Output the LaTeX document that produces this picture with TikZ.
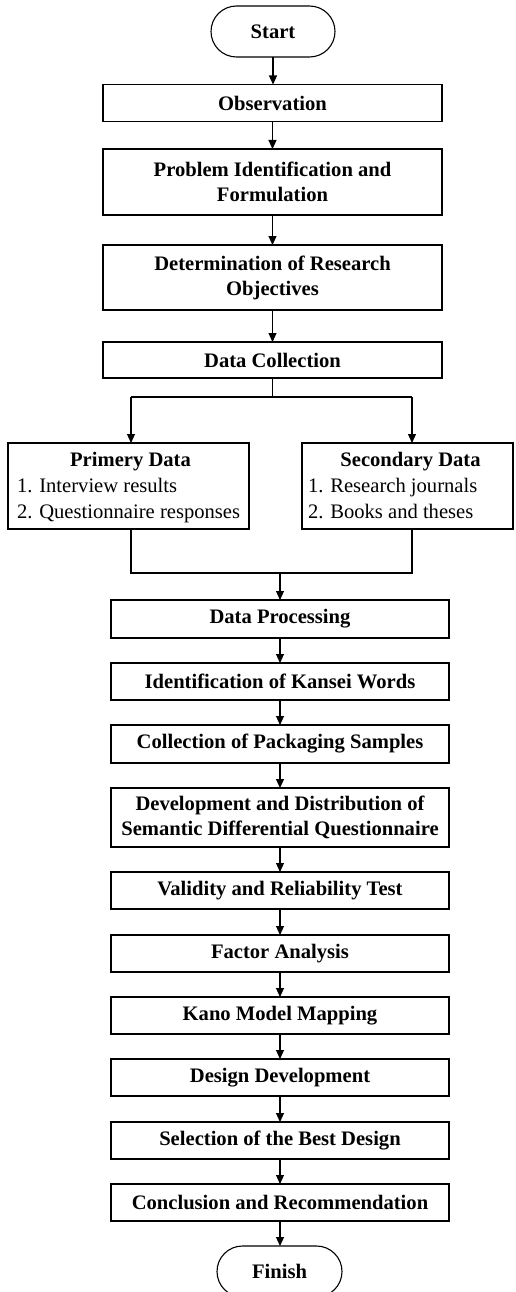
\documentclass[tikz,border=0pt]{standalone}
\usepackage{fontspec}
\setmainfont{Liberation Serif}
\usetikzlibrary{arrows.meta,shapes.misc,calc}
\newcommand{\bfnt}{\fontsize{20.6}{25}\selectfont\bfseries}
\newcommand{\rgnt}{\fontsize{20.6}{25}\selectfont}
\begin{document}
\begin{tikzpicture}[x=1pt,y=-1pt,
  every node/.style={inner sep=0pt, outer sep=0pt},
  lw/.style={line width=1.1pt},
  box/.style={draw, lw, minimum width=338pt, minimum height=37pt, align=center, font=\bfnt},
  upbox/.style={box, minimum width=339pt},
  term/.style={draw, lw, rounded rectangle, minimum width=124pt, minimum height=51pt, font=\bfnt},
  databox/.style={draw, lw, minimum height=86pt},
  title/.style={anchor=base, font=\bfnt},
  item/.style={anchor=base west, font=\rgnt},
  arr/.style={lw, -{Triangle[length=9pt,width=8pt]}},
  conn/.style={lw}
]
\clip (0,0) rectangle (515,1292);
\fill[white] (0,0) rectangle (515,1292);
% upper column
\node[term] (start) at (273,31.5) {Start};
\node[upbox] (obs) at (272.5,103) {Observation};
\node[upbox, minimum height=66pt] (prob) at (272.5,182) {Problem Identification and\\Formulation};
\node[upbox, minimum height=65pt] (det) at (272.5,277.5) {Determination of Research\\Objectives};
\node[upbox, minimum height=36pt] (dc) at (272.5,360) {Data Collection};
% branch
\coordinate (br) at (272.5,397);
\coordinate (brl) at (131,397);
\coordinate (brr) at (412,397);
\node[databox, minimum width=241pt] (prim) at (128.5,486) {};
\node[databox, minimum width=211pt] (sec) at (407.5,486) {};
\node[title] (primt) at (130.5,466) {Primery Data};
\node[item] (prim1) at (17,492.5) {1. Interview results};
\node[item] (prim2) at (17,518) {2. Questionnaire responses};
\node[title] (sect) at (410.5,466) {Secondary Data};
\node[item] (sec1) at (308,492.5) {1. Research journals};
\node[item] (sec2) at (308,518) {2. Books and theses};
\coordinate (ml) at (131,573);
\coordinate (mr) at (412,573);
\coordinate (mc) at (280,573);
% lower column
\node[box, minimum height=38pt] (dp) at (280,619) {Data Processing};
\node[box] (idk) at (280,681.5) {Identification of Kansei Words};
\node[box, minimum height=38pt] (cps) at (280,744) {Collection of Packaging Samples};
\node[box, minimum height=59pt] (dev) at (280,817.5) {Development and Distribution of\\Semantic Differential Questionnaire};
\node[box] (val) at (280,890.5) {Validity and Reliability Test};
\node[box] (fac) at (280,953.5) {Factor Analysis};
\node[box] (kano) at (280,1015.5) {Kano Model Mapping};
\node[box] (dd) at (280,1077.5) {Design Development};
\node[box] (sel) at (280,1140.5) {Selection of the Best Design};
\node[box] (conc) at (280,1202.5) {Conclusion and Recommendation};
\node[term, minimum width=125pt] (fin) at (279.5,1271.5) {Finish};
% connectors
\draw[arr] (start.south) -- (start.south |- obs.north);
\draw[arr] (obs) -- (prob);
\draw[arr] (prob) -- (det);
\draw[arr] (det) -- (dc);
\draw[conn] (dc) -- (br);
\draw[conn] (brl) -- (brr);
\draw[arr] (brl) -- (brl |- prim.north);
\draw[arr] (brr) -- (brr |- sec.north);
\draw[conn] (brl |- prim.south) -- (ml) -- (mr) -- (brr |- sec.south);
\draw[arr] (mc) -- (dp);
\draw[arr] (dp) -- (idk);
\draw[arr] (idk) -- (cps);
\draw[arr] (cps) -- (dev);
\draw[arr] (dev) -- (val);
\draw[arr] (val) -- (fac);
\draw[arr] (fac) -- (kano);
\draw[arr] (kano) -- (dd);
\draw[arr] (dd) -- (sel);
\draw[arr] (sel) -- (conc);
\draw[arr] (conc.south) -- (conc.south |- fin.north);
\end{tikzpicture}
\end{document}
